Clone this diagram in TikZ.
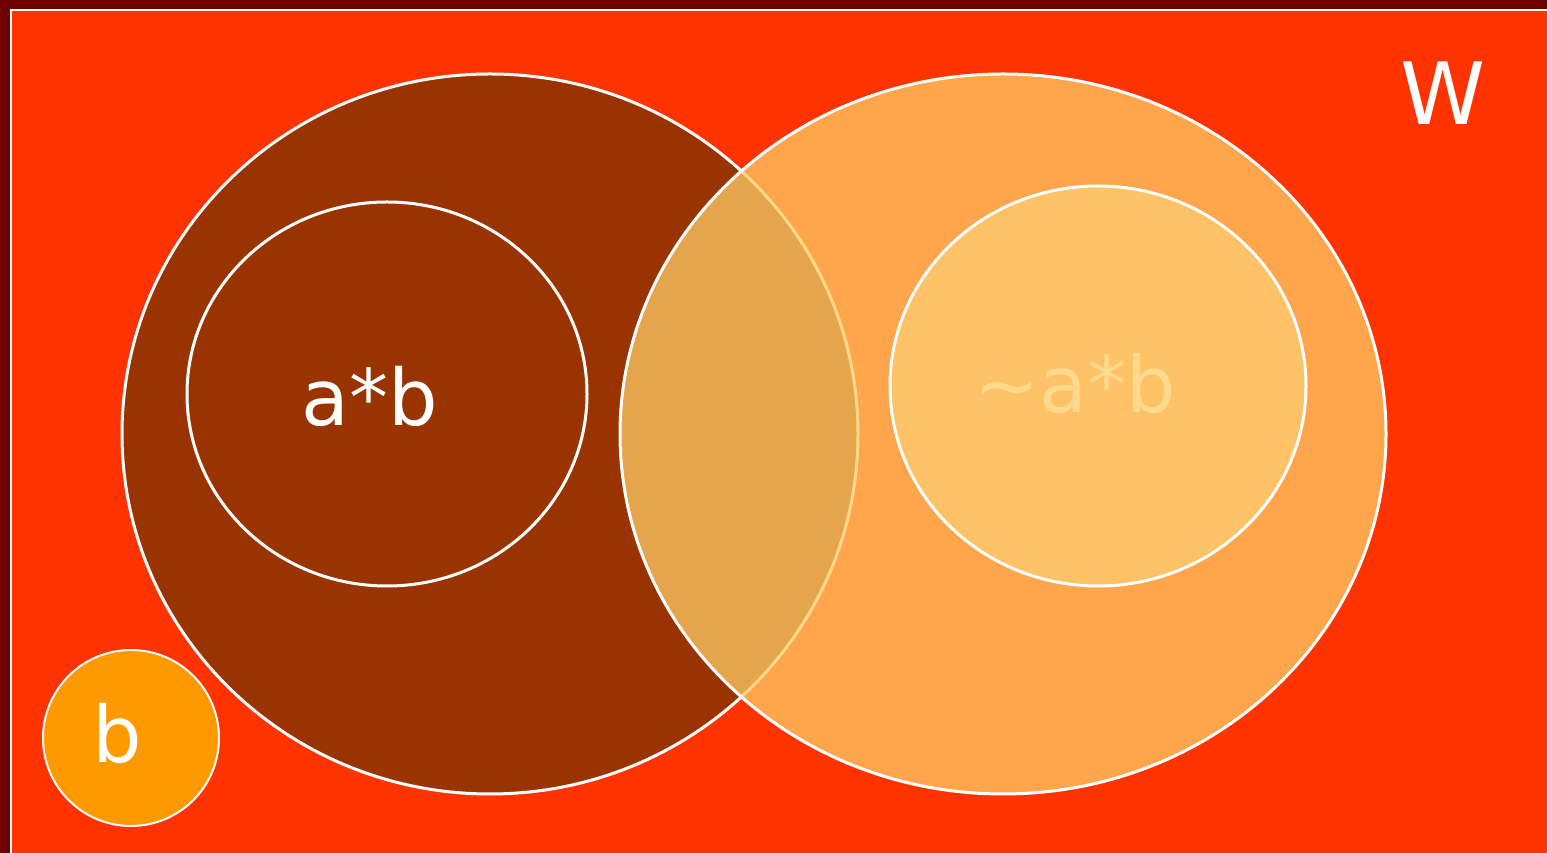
\documentclass[tikz,border=0pt]{standalone}
\usepackage{fontspec}
\setmainfont{DejaVu Sans}
\definecolor{darkframe}{HTML}{6E0000}
\definecolor{bgred}{HTML}{FF3300}
\definecolor{brownfill}{HTML}{993300}
\definecolor{lightfill}{HTML}{FFCC66}
\definecolor{innerlight}{HTML}{FFC266}
\definecolor{ballfill}{HTML}{FF9900}
\definecolor{paletext}{HTML}{FFD98C}
\begin{document}
\begin{tikzpicture}[x=1pt,y=1pt,
  setline/.style={draw=white,line width=3pt},
  lbl/.style={font=\fontsize{78}{78}\selectfont,inner sep=0pt}]
\useasboundingbox (0,0) rectangle (1547,853);
\fill[darkframe] (0,0) rectangle (1547,853);
\fill[bgred] (10,0) rectangle (1547,844);
\draw[white,line width=2pt] (11,0) -- (11,843) -- (1547,843);
% left big set
\path[setline,fill=brownfill] (490,419) ellipse [x radius=368,y radius=360];
\node[coordinate] (L) at (490,419) {};
% right big set (semi-transparent)
\path[setline,fill=lightfill,fill opacity=0.75] (1003,419) ellipse [x radius=383,y radius=360];
\node[coordinate] (R) at (1003,419) {};
% inner left
\path[setline,fill=brownfill] (387,459) ellipse [x radius=200,y radius=192];
\node[lbl,text=white] (ab) at (370,457) {a*b};
% inner right
\path[setline,fill=innerlight] (1098,467) ellipse [x radius=208,y radius=200];
\node[lbl,text=paletext] (nab) at (1075,470) {\char"223C a*b};
% small ball
\path[draw=white,line width=2pt,fill=ballfill] (131,115) circle [radius=88];
\node[lbl,text=white] (b) at (117,120) {b};
% W
\node[font=\fontsize{86}{86}\selectfont,text=white,inner sep=0pt] (W) at (1443,760) {W};
\end{tikzpicture}
\end{document}
